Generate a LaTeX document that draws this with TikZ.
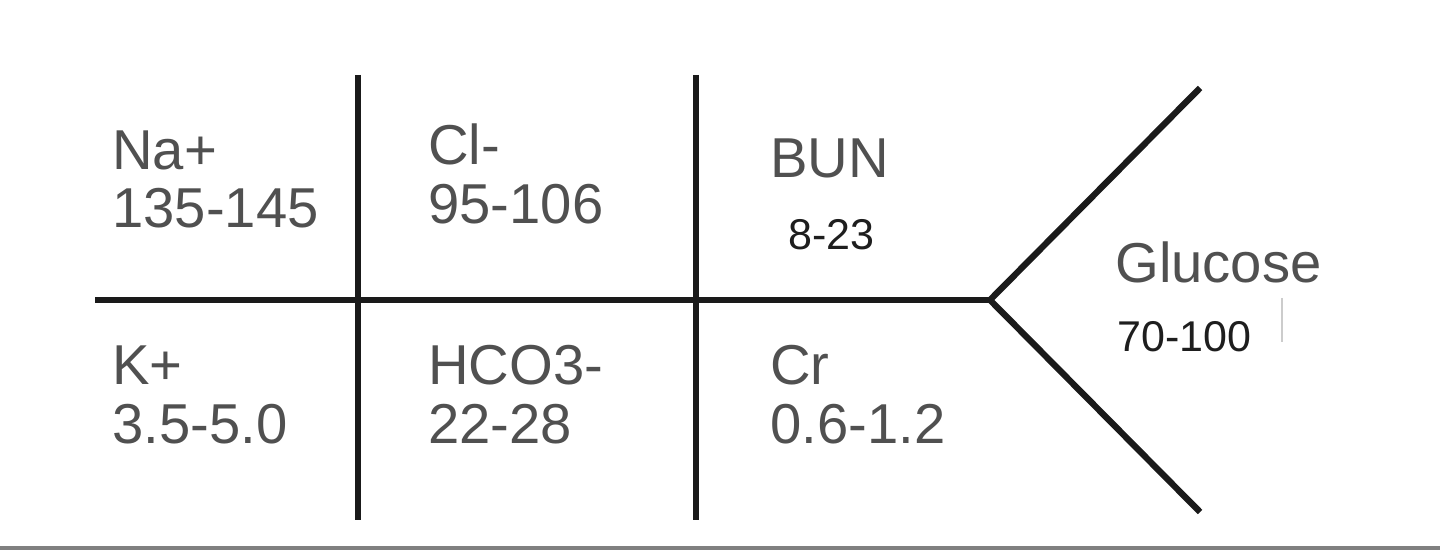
\documentclass[tikz,border=0pt]{standalone}
\usepackage{fontspec}
\setmainfont{Liberation Sans}
\definecolor{txtgray}{HTML}{505050}
\definecolor{txtdark}{HTML}{1E1E1E}
\definecolor{linecol}{HTML}{1A1A1A}
\tikzset{
  lbl/.style={anchor=base west, inner sep=0pt, text=txtgray, font=\fontsize{32}{38}\selectfont},
  lblsmall/.style={anchor=base west, inner sep=0pt, text=txtdark, font=\fontsize{24.5}{29}\selectfont},
  bone/.style={draw=linecol, line width=3.6pt},
}
\begin{document}
\begin{tikzpicture}[x=0.02cm, y=-0.02cm]
\useasboundingbox (0,0) rectangle (1440,550);
% coordinates
\coordinate (hL) at (95,300);
\coordinate (fork) at (990,300);
\coordinate (v1t) at (358,75);
\coordinate (v1b) at (358,520);
\coordinate (v2t) at (696,75);
\coordinate (v2b) at (696,520);
\coordinate (up) at (1200,88);
\coordinate (dn) at (1200,512);
\coordinate (bl) at (0,548);
\coordinate (br) at (1440,548);
\coordinate (tk1) at (1282,298);
\coordinate (tk2) at (1282,342);
% lines
\draw[bone] (hL) -- (fork);
\draw[bone] (v1t) -- (v1b);
\draw[bone] (v2t) -- (v2b);
\draw[bone, line join=miter] (up) -- (fork) -- (dn);
\draw[gray, line width=2pt] (bl) -- (br);
\draw[gray!40, line width=0.8pt] (tk1) -- (tk2);
% texts
\node[lbl] (na) at (112,170) {Na+};
\node[lbl] (nav) at (112,228) {135-145};
\node[lbl] (cl) at (428,165) {Cl-};
\node[lbl] (clv) at (428,224) {95-106};
\node[lbl] (bun) at (770,178) {BUN};
\node[lblsmall] (bunv) at (788,250) {8-23};
\node[lbl] (glu) at (1115,283) {Glucose};
\node[lblsmall] (gluv) at (1117,352) {70-100};
\node[lbl] (k) at (112,385) {K+};
\node[lbl] (kv) at (112,443) {3.5-5.0};
\node[lbl] (hco) at (428,385) {HCO3-};
\node[lbl] (hcov) at (428,443) {22-28};
\node[lbl] (cr) at (770,385) {Cr};
\node[lbl] (crv) at (770,443) {0.6-1.2};
\end{tikzpicture}
\end{document}
